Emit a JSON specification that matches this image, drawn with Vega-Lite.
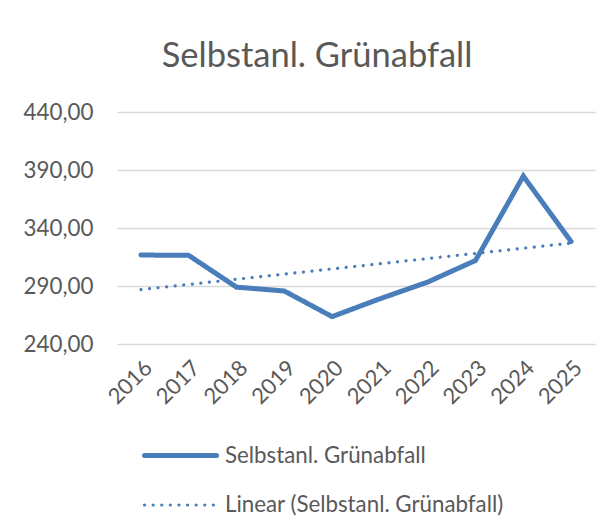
{
  "$schema": "https://vega.github.io/schema/vega-lite/v6.json",
  "autosize": "none",
  "width": 478,
  "height": 232,
  "padding": {"left": 117, "top": 112, "right": 19, "bottom": 180},
  "background": "#ffffff",
  "title": {
    "text": "Selbstanl. Grünabfall",
    "font": "Lato",
    "fontSize": 34.5,
    "fontWeight": "normal",
    "color": "#595959",
    "anchor": "middle",
    "frame": "group",
    "dx": -39,
    "offset": 27
  },
  "data": {
    "values": [
      {"year": 2016, "value": 316.7, "series": "Selbstanl. Grünabfall"},
      {"year": 2017, "value": 316.4, "series": "Selbstanl. Grünabfall"},
      {"year": 2018, "value": 289.0, "series": "Selbstanl. Grünabfall"},
      {"year": 2019, "value": 285.7, "series": "Selbstanl. Grünabfall"},
      {"year": 2020, "value": 263.6, "series": "Selbstanl. Grünabfall"},
      {"year": 2021, "value": 279.0, "series": "Selbstanl. Grünabfall"},
      {"year": 2022, "value": 293.4, "series": "Selbstanl. Grünabfall"},
      {"year": 2023, "value": 312.0, "series": "Selbstanl. Grünabfall"},
      {"year": 2024, "value": 384.7, "series": "Selbstanl. Grünabfall"},
      {"year": 2025, "value": 328.3, "series": "Selbstanl. Grünabfall"},
      {"year": 2016, "value": 286.9, "series": "Linear (Selbstanl. Grünabfall)"},
      {"year": 2025, "value": 327.0, "series": "Linear (Selbstanl. Grünabfall)"}
    ]
  },
  "mark": {"type": "line", "strokeCap": "round", "strokeJoin": "miter"},
  "encoding": {
    "x": {
      "field": "year",
      "type": "quantitative",
      "scale": {"domain": [2015.5, 2025.5], "nice": false, "zero": false},
      "axis": {
        "title": null,
        "values": [2016, 2017, 2018, 2019, 2020, 2021, 2022, 2023, 2024, 2025],
        "format": "d",
        "grid": false,
        "ticks": false,
        "domain": false,
        "labelAngle": -45,
        "labelFont": "Lato",
        "labelFontSize": 22,
        "labelColor": "#595959",
        "labelPadding": 13,
        "labelOverlap": false,
        "labelBound": false
      }
    },
    "y": {
      "field": "value",
      "type": "quantitative",
      "scale": {"domain": [240, 440], "nice": false, "zero": false},
      "axis": {
        "title": null,
        "values": [240, 290, 340, 390, 440],
        "labelExpr": "replace(format(datum.value, '.2f'), '.', ',')",
        "ticks": false,
        "domain": false,
        "gridColor": "#d9d9d9",
        "gridWidth": 1.3,
        "labelFont": "Lato",
        "labelFontSize": 22.4,
        "labelColor": "#595959",
        "labelPadding": 24
      }
    },
    "color": {
      "field": "series",
      "type": "nominal",
      "sort": ["Selbstanl. Grünabfall", "Linear (Selbstanl. Grünabfall)"],
      "scale": {"domain": ["Selbstanl. Grünabfall", "Linear (Selbstanl. Grünabfall)"], "range": ["#4a7ebb", "#4a7ebb"]},
      "legend": {
        "title": null,
        "orient": "none",
        "legendX": 25,
        "legendY": 305,
        "direction": "vertical",
        "padding": 0,
        "symbolType": "stroke",
        "symbolSize": 5184,
        "labelFont": "Lato",
        "labelFontSize": 22.3,
        "labelColor": "#595959",
        "labelOffset": 6,
        "labelLimit": 500,
        "rowPadding": -26,
        "encode": {"symbols": {"update": {"strokeCap": {"value": "round"}}}}
      }
    },
    "strokeDash": {
      "field": "series",
      "type": "nominal",
      "scale": {"domain": ["Selbstanl. Grünabfall", "Linear (Selbstanl. Grünabfall)"], "range": [[1, 0], [0.1, 8.5]]},
      "legend": {
        "title": null,
        "orient": "none",
        "legendX": 25,
        "legendY": 305,
        "direction": "vertical",
        "padding": 0,
        "symbolType": "stroke",
        "symbolSize": 5184,
        "labelFont": "Lato",
        "labelFontSize": 22.3,
        "labelColor": "#595959",
        "labelOffset": 6,
        "labelLimit": 500,
        "rowPadding": -26,
        "encode": {"symbols": {"update": {"strokeCap": {"value": "round"}}}}
      }
    },
    "strokeWidth": {
      "field": "series",
      "type": "nominal",
      "scale": {"domain": ["Selbstanl. Grünabfall", "Linear (Selbstanl. Grünabfall)"], "range": [5, 3.2]},
      "legend": {
        "title": null,
        "orient": "none",
        "legendX": 25,
        "legendY": 305,
        "direction": "vertical",
        "padding": 0,
        "symbolType": "stroke",
        "symbolSize": 5184,
        "labelFont": "Lato",
        "labelFontSize": 22.3,
        "labelColor": "#595959",
        "labelOffset": 6,
        "labelLimit": 500,
        "rowPadding": -26,
        "encode": {"symbols": {"update": {"strokeCap": {"value": "round"}}}}
      }
    }
  },
  "config": {"view": {"stroke": null}}
}
